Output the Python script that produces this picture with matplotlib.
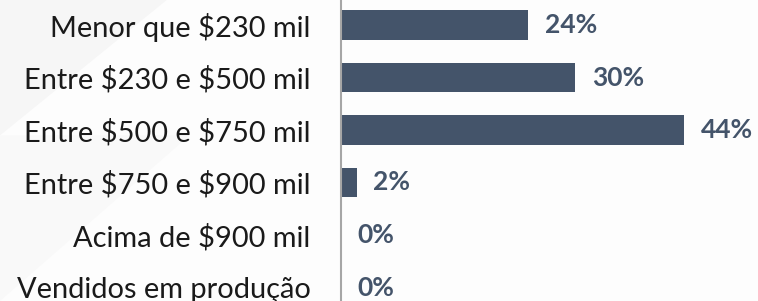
import matplotlib.pyplot as plt
from matplotlib.patches import Polygon

categorias = ['Menor que \\$230 mil', 'Entre \\$230 e \\$500 mil', 'Entre \\$500 e \\$750 mil',
              'Entre \\$750 e \\$900 mil', 'Acima de \\$900 mil', 'Vendidos em produção']
percentuais = [24, 30, 44, 2, 0, 0]

cor_barra = '#44546A'

plt.rcParams['font.family'] = ['Lato', 'DejaVu Sans']

fig = plt.figure(figsize=(7.58, 3.01), dpi=100)
fig.patch.set_facecolor('#fdfdfd')

# marca d'agua clara no fundo
fig.patches.append(Polygon([[0, 0.55], [0.22, 1.0], [0, 1.0]], closed=True,
                           transform=fig.transFigure, facecolor='#f6f6f6', edgecolor='none', zorder=-5))
fig.patches.append(Polygon([[0, 0.0], [0.25, 0.55], [0.0, 0.55]], closed=True,
                           transform=fig.transFigure, facecolor='#f9f9f9', edgecolor='none', zorder=-5))

ax = fig.add_axes([341 / 758, 0, 1 - 341 / 758, 1])
ax.patch.set_alpha(0)

y = list(range(len(categorias)))
ax.barh(y, percentuais, height=0.57, color=cor_barra)

for i, v in enumerate(percentuais):
    ax.annotate(f'{v}%', (v, i), xytext=(12, 0), textcoords='offset points',
                va='center', ha='left', fontsize=19, fontweight='bold', color=cor_barra)

ax.set_xlim(0, 417 / 7.8)
ax.set_ylim((301 - 25) / 52.5, -25 / 52.5)
ax.set_yticks(y)
ax.set_yticklabels(categorias, fontsize=20.9, color='#1a1a1a')
ax.tick_params(axis='y', length=0, pad=22)
ax.set_xticks([])

for s in ['top', 'right', 'bottom']:
    ax.spines[s].set_visible(False)
ax.spines['left'].set_color('#a6a6a6')
ax.spines['left'].set_linewidth(1.5)

fig.savefig('out.png', dpi=100, facecolor=fig.get_facecolor())
